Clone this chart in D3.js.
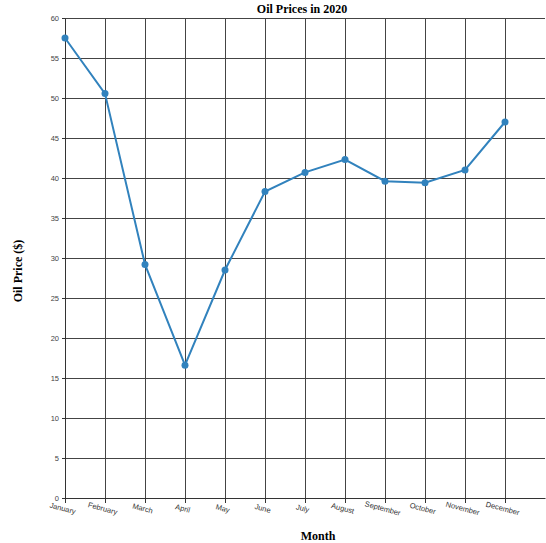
<!DOCTYPE html>
<html>
<head>
<meta charset="utf-8">
<script src="https://cdn.jsdelivr.net/npm/d3@7"></script>
<style>
  body { margin: 0; background: #fff; }
  svg { display: block; }
</style>
</head>
<body>
<svg id="chart" width="546" height="543"></svg>
<script>
const months = ["January","February","March","April","May","June","July","August","September","October","November","December"];
const prices = [57.5, 50.55, 29.2, 16.6, 28.5, 38.3, 40.7, 42.3, 39.6, 39.4, 41.0, 47.0];
const yTicks = [0,5,10,15,20,25,30,35,40,45,50,55,60];

const margin = {top: 18, left: 65};
const width = 480, height = 480;

const svg = d3.select("#chart");
const g = svg.append("g").attr("transform", `translate(${margin.left},${margin.top})`);

const x = d3.scaleLinear().domain([0, 12]).range([0, width]);
const y = d3.scaleLinear().domain([0, 60]).range([height, 0]);

// grid
g.append("g").attr("class","grid")
  .selectAll("line.h").data(yTicks).join("line")
  .attr("x1", 0).attr("x2", width)
  .attr("y1", d => Math.round(y(d)) + 0.5).attr("y2", d => Math.round(y(d)) + 0.5)
  .attr("stroke", "#444").attr("stroke-width", 1);
g.append("g").attr("class","grid")
  .selectAll("line.v").data(months).join("line")
  .attr("x1", (d,i) => Math.round(x(i)) + 0.5).attr("x2", (d,i) => Math.round(x(i)) + 0.5)
  .attr("y1", 0).attr("y2", height)
  .attr("stroke", "#444").attr("stroke-width", 1);

// axes
const xAxis = g.append("g").attr("transform", `translate(0,${height})`)
  .call(d3.axisBottom(x).tickValues(d3.range(12)).tickFormat(i => months[i]).tickSize(5).tickSizeOuter(0));
xAxis.selectAll("text")
  .attr("font-family", "Liberation Sans, Arial, sans-serif")
  .attr("font-size", 7.5).attr("fill", "#333")
  .attr("transform", "rotate(15)");
xAxis.select(".domain").attr("stroke", "#333");
xAxis.selectAll(".tick line").attr("stroke", "#333");

const yAxis = g.append("g")
  .call(d3.axisLeft(y).tickValues(yTicks).tickSize(3).tickSizeOuter(0));
yAxis.selectAll("text")
  .attr("font-family", "Liberation Sans, Arial, sans-serif")
  .attr("font-size", 7.5).attr("fill", "#444");
yAxis.select(".domain").attr("stroke", "#333");
yAxis.selectAll(".tick line").attr("stroke", "#333");

// line
const line = d3.line().x((d,i) => x(i)).y(d => y(d));
g.append("path").datum(prices)
  .attr("fill", "none").attr("stroke", "#3182bd").attr("stroke-width", 2)
  .attr("d", line);
g.selectAll("circle.pt").data(prices).join("circle")
  .attr("class","pt")
  .attr("cx", (d,i) => x(i)).attr("cy", d => y(d)).attr("r", 3.5)
  .attr("fill", "#3182bd");

// titles
svg.append("text").attr("x", 302).attr("y", 13)
  .attr("text-anchor", "middle")
  .attr("font-family", "Liberation Serif, Times New Roman, serif")
  .attr("font-weight", "bold").attr("font-size", 12)
  .text("Oil Prices in 2020");
svg.append("text").attr("x", 318).attr("y", 540)
  .attr("text-anchor", "middle")
  .attr("font-family", "Liberation Serif, Times New Roman, serif")
  .attr("font-weight", "bold").attr("font-size", 12)
  .text("Month");
svg.append("text")
  .attr("transform", "translate(22,271) rotate(-90)")
  .attr("text-anchor", "middle")
  .attr("font-family", "Liberation Serif, Times New Roman, serif")
  .attr("font-weight", "bold").attr("font-size", 12)
  .text("Oil Price ($)");
</script>
</body>
</html>
